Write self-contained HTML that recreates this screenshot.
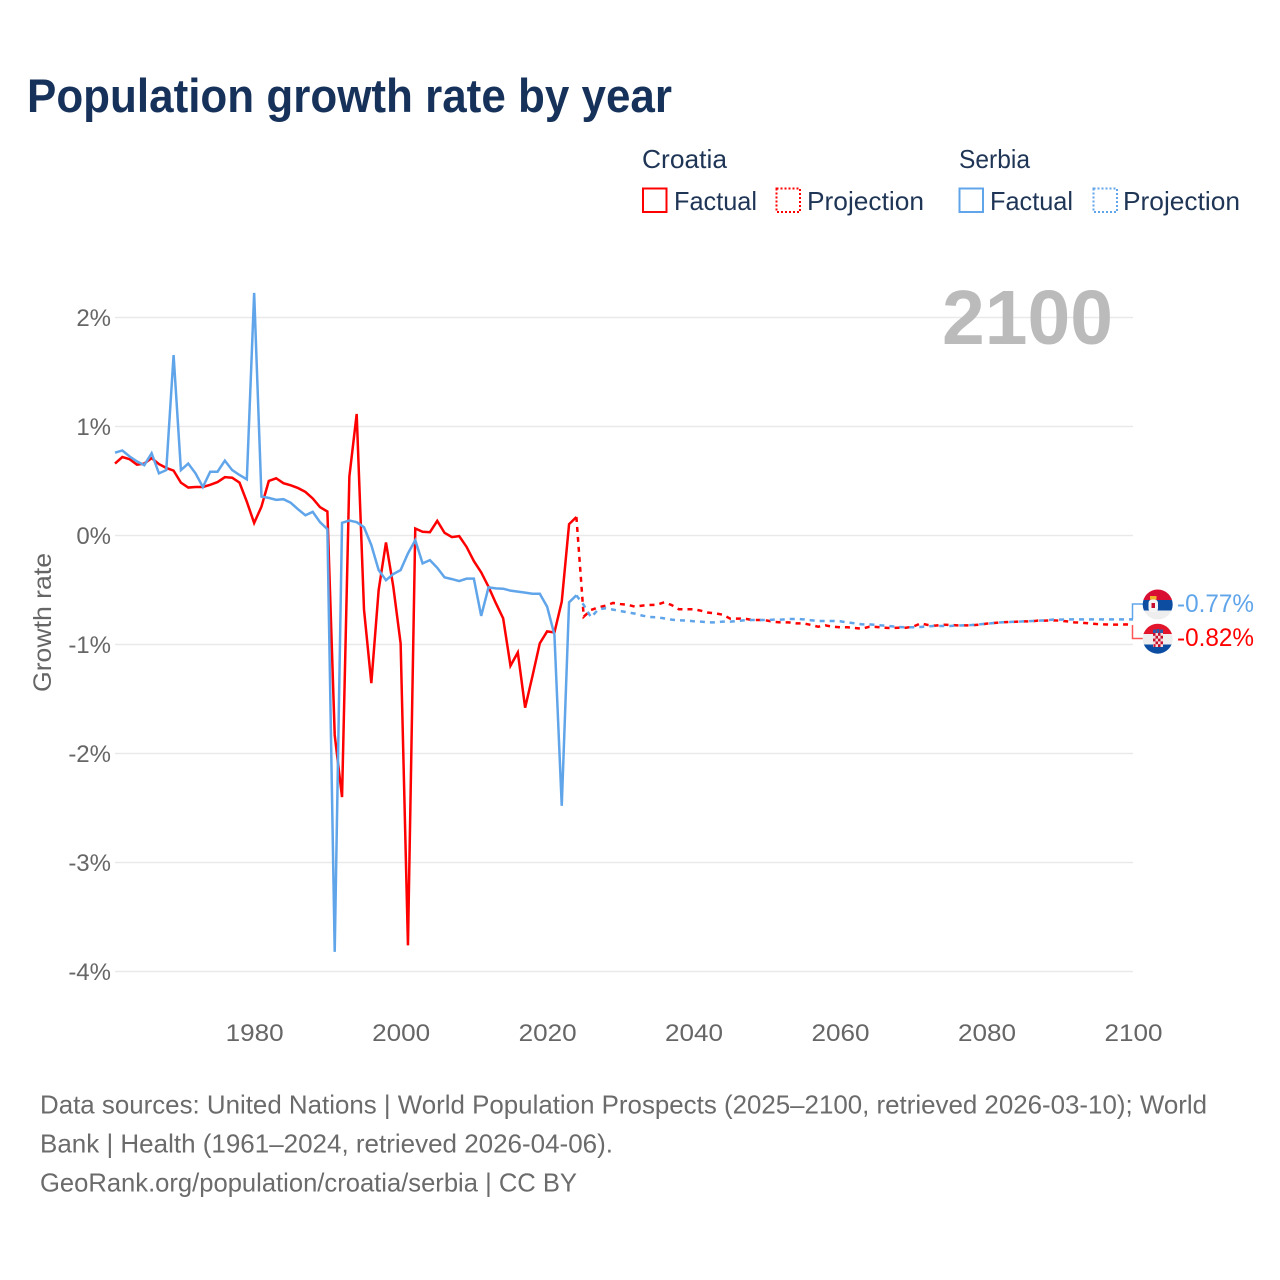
<!DOCTYPE html>
<html lang="en">
<head>
<meta charset="utf-8">
<title>Population growth rate by year</title>
<style>
html,body{margin:0;padding:0;background:#fff;}
svg{display:block;font-family:"Liberation Sans",sans-serif;}
</style>
</head>
<body>
<svg id="chart" xmlns="http://www.w3.org/2000/svg" width="1280" height="1280" viewBox="0 0 1280 1280">
  <rect x="0" y="0" width="1280" height="1280" fill="#ffffff"/>
  <text x="27" y="112" font-size="47" font-weight="700" fill="#17325a" textLength="645" lengthAdjust="spacingAndGlyphs">Population growth rate by year</text>

  <g font-size="26" fill="#1f3556">
    <text x="642" y="168" textLength="85" lengthAdjust="spacingAndGlyphs">Croatia</text>
    <text x="959" y="168" textLength="71" lengthAdjust="spacingAndGlyphs">Serbia</text>
    <rect x="643" y="188.500" width="23.500" height="23.500" fill="none" stroke="#ff0000" stroke-width="2"/>
    <text x="674" y="210" textLength="83" lengthAdjust="spacingAndGlyphs">Factual</text>
    <rect x="776.500" y="188.500" width="23.500" height="23.500" fill="none" stroke="#ff0000" stroke-width="2" stroke-dasharray="2 2"/>
    <text x="807" y="210" textLength="117" lengthAdjust="spacingAndGlyphs">Projection</text>
    <rect x="959.500" y="188.500" width="23.500" height="23.500" fill="none" stroke="#60a5ea" stroke-width="2"/>
    <text x="990" y="210" textLength="83" lengthAdjust="spacingAndGlyphs">Factual</text>
    <rect x="1093.500" y="188.500" width="23.500" height="23.500" fill="none" stroke="#60a5ea" stroke-width="2" stroke-dasharray="2 2"/>
    <text x="1123" y="210" textLength="117" lengthAdjust="spacingAndGlyphs">Projection</text>
  </g>

  <text transform="translate(51 692) rotate(-90)" font-size="25" fill="#666666" textLength="139" lengthAdjust="spacingAndGlyphs">Growth rate</text>

  <g id="grid"></g>
  <g id="yticks"></g>
  <g id="xticks"></g>

  <text x="942" y="344" font-size="77" font-weight="700" fill="#bbbbbb" textLength="171" lengthAdjust="spacingAndGlyphs">2100</text>

  <g id="series"></g>

  <g fill="none" stroke-width="1.500">
    <path d="M1132.500 619V604H1143" stroke="#60a5ea"/>
    <path d="M1132.500 625V638.500H1143" stroke="#ff5555"/>
  </g>

  <defs>
    <clipPath id="clip-rs"><circle cx="1157.700" cy="604.500" r="15"/></clipPath>
    <clipPath id="clip-hr"><circle cx="1157.700" cy="638.700" r="15"/></clipPath>
  </defs>

  <g clip-path="url(#clip-rs)">
    <rect x="1142" y="589" width="32" height="11" fill="#d80f33"/>
    <rect x="1142" y="600" width="32" height="10.500" fill="#0c4da2"/>
    <rect x="1142" y="610.500" width="32" height="10" fill="#eeeeee"/>
    <rect x="1150" y="596" width="6.500" height="3.500" fill="#f0b429"/>
    <rect x="1148.500" y="599.500" width="9.500" height="12.500" rx="3.500" fill="#f5f5f5"/>
    <rect x="1151.500" y="603" width="3.500" height="5" fill="#c8102e"/>
  </g>

  <g clip-path="url(#clip-hr)">
    <rect x="1142" y="623" width="32" height="11" fill="#e2152d"/>
    <rect x="1142" y="634" width="32" height="10.500" fill="#eeeeee"/>
    <rect x="1142" y="644.500" width="32" height="10" fill="#0c4da2"/>
    <rect x="1153" y="629.500" width="3" height="3.500" fill="#2a5aa8"/>
    <rect x="1156.500" y="629" width="3" height="4" fill="#2a5aa8"/>
    <rect x="1160" y="629.500" width="3" height="3.500" fill="#2a5aa8"/>
    <rect x="1153" y="633" width="10" height="14" fill="#f4dcdc"/>
    <rect x="1153" y="633" width="2.500" height="2.800" fill="#c8102e"/>
    <rect x="1158" y="633" width="2.500" height="2.800" fill="#c8102e"/>
    <rect x="1155.500" y="635.800" width="2.500" height="2.800" fill="#c8102e"/>
    <rect x="1160.500" y="635.800" width="2.500" height="2.800" fill="#c8102e"/>
    <rect x="1153" y="638.600" width="2.500" height="2.800" fill="#c8102e"/>
    <rect x="1158" y="638.600" width="2.500" height="2.800" fill="#c8102e"/>
    <rect x="1155.500" y="641.400" width="2.500" height="2.800" fill="#c8102e"/>
    <rect x="1160.500" y="641.400" width="2.500" height="2.800" fill="#c8102e"/>
    <rect x="1153.500" y="644.200" width="2" height="2.800" fill="#c8102e"/>
    <rect x="1158" y="644.200" width="2.500" height="2.800" fill="#c8102e"/>
  </g>

  <text x="1177" y="612" font-size="25" fill="#60a5ea" textLength="77" lengthAdjust="spacingAndGlyphs">-0.77%</text>
  <text x="1177" y="646" font-size="25" fill="#ff0000" textLength="77" lengthAdjust="spacingAndGlyphs">-0.82%</text>

  <g font-size="26" fill="#6b6b6b">
    <text x="40" y="1113.500" textLength="1167" lengthAdjust="spacingAndGlyphs">Data sources: United Nations | World Population Prospects (2025–2100, retrieved 2026-03-10); World</text>
    <text x="40" y="1152.500" textLength="573" lengthAdjust="spacingAndGlyphs">Bank | Health (1961–2024, retrieved 2026-04-06).</text>
    <text x="40" y="1191.500" textLength="537" lengthAdjust="spacingAndGlyphs">GeoRank.org/population/croatia/serbia | CC BY</text>
  </g>
</svg>

<script>
const factualStartYear = 1961;
const projectionStartYear = 2024;
const yTickValues = [2, 1, 0, -1, -2, -3, -4];
const yTickLabels = ["2%", "1%", "0%", "-1%", "-2%", "-3%", "-4%"];
const xTickYears = [1980, 2000, 2020, 2040, 2060, 2080, 2100];
const xTickLabels = ["1980", "2000", "2020", "2040", "2060", "2080", "2100"];

const croatiaFactual = [
  0.66,0.72,0.70,0.65,0.66,0.71,0.655,0.62,0.595,0.485,
  0.44,0.445,0.445,0.465,0.49,0.535,0.53,0.485,0.31,0.115,
  0.265,0.50,0.525,0.48,0.46,0.435,0.40,0.34,0.26,0.22,
  -1.83,-2.40,0.54,1.115,-0.68,-1.354,-0.50,-0.064,-0.47,-0.99,
  -3.76,0.064,0.034,0.03,0.134,0.024,-0.015,-0.006,-0.104,-0.235,
  -0.338,-0.47,-0.62,-0.76,-1.195,-1.073,-1.58,-1.29,-0.99,-0.88,
  -0.89,-0.607,0.104,0.17
];
const serbiaFactual = [
  0.76,0.78,0.725,0.68,0.645,0.755,0.57,0.60,1.655,0.60,
  0.66,0.57,0.445,0.585,0.585,0.687,0.60,0.555,0.515,2.225,
  0.357,0.345,0.327,0.333,0.30,0.24,0.186,0.217,0.122,0.058,
  -3.82,0.116,0.137,0.122,0.076,-0.088,-0.317,-0.41,-0.354,-0.317,
  -0.165,-0.043,-0.256,-0.226,-0.296,-0.384,-0.40,-0.418,-0.396,-0.396,
  -0.738,-0.476,-0.485,-0.488,-0.506,-0.515,-0.524,-0.534,-0.534,-0.652,
  -0.91,-2.48,-0.613,-0.549
];
const croatiaProjection = [
  0.17,-0.745,-0.683,-0.66,-0.643,-0.619,-0.629,-0.635,-0.653,-0.643,
  -0.638,-0.635,-0.613,-0.638,-0.677,-0.677,-0.677,-0.69,-0.708,-0.714,
  -0.727,-0.763,-0.763,-0.763,-0.775,-0.775,-0.78,-0.793,-0.797,-0.797,
  -0.806,-0.806,-0.82,-0.837,-0.825,-0.837,-0.842,-0.842,-0.849,-0.855,
  -0.837,-0.839,-0.846,-0.849,-0.846,-0.846,-0.836,-0.806,-0.821,-0.827,
  -0.818,-0.821,-0.824,-0.824,-0.824,-0.818,-0.809,-0.803,-0.797,-0.794,
  -0.791,-0.788,-0.788,-0.781,-0.781,-0.778,-0.781,-0.788,-0.797,-0.80,
  -0.806,-0.812,-0.815,-0.818,-0.818,-0.815,-0.82
];
const serbiaProjection = [
  -0.549,-0.637,-0.75,-0.677,-0.668,-0.68,-0.693,-0.705,-0.717,-0.735,
  -0.748,-0.75,-0.76,-0.772,-0.778,-0.78,-0.787,-0.79,-0.797,-0.797,
  -0.79,-0.79,-0.784,-0.778,-0.775,-0.775,-0.775,-0.772,-0.772,-0.766,
  -0.766,-0.769,-0.778,-0.784,-0.784,-0.784,-0.787,-0.797,-0.806,-0.815,
  -0.815,-0.821,-0.827,-0.833,-0.839,-0.842,-0.842,-0.839,-0.833,-0.83,
  -0.83,-0.83,-0.827,-0.824,-0.821,-0.815,-0.809,-0.803,-0.797,-0.794,
  -0.791,-0.788,-0.785,-0.781,-0.778,-0.772,-0.772,-0.769,-0.77,-0.77,
  -0.77,-0.77,-0.77,-0.77,-0.77,-0.77,-0.77
];

const NS = "http://www.w3.org/2000/svg";
const plotLeft = 115, plotRight = 1133;
function xScale(year) { return plotLeft + (year - 1961) * (plotRight - plotLeft) / 139; }
function yScale(value) { return 535.5 - value * 109; }

const gridGroup = document.getElementById("grid");
const yTickGroup = document.getElementById("yticks");
yTickValues.forEach(function (v, i) {
  const line = document.createElementNS(NS, "line");
  
  
  line.setAttribute("x1", plotLeft);
  line.setAttribute("x2", plotRight);
  line.setAttribute("y1", yScale(v));
  line.setAttribute("y2", yScale(v));
  line.setAttribute("stroke", "#e9e9e9");
  line.setAttribute("stroke-width", "1.500");
  gridGroup.appendChild(line);

  const label = document.createElementNS(NS, "text");
  
  
  label.setAttribute("x", 111);
  label.setAttribute("y", yScale(v) + 8.500);
  label.setAttribute("text-anchor", "end");
  label.setAttribute("font-size", "24");
  label.setAttribute("fill", "#666666");
  label.textContent = yTickLabels[i];
  yTickGroup.appendChild(label);
});

const xTickGroup = document.getElementById("xticks");
xTickYears.forEach(function (yr, i) {
  const label = document.createElementNS(NS, "text");
  
  
  label.setAttribute("x", xScale(yr) + 0.500);
  label.setAttribute("y", 1041);
  label.setAttribute("text-anchor", "middle");
  label.setAttribute("font-size", "24");
  label.setAttribute("fill", "#666666");
  label.setAttribute("textLength", "58");
  label.setAttribute("lengthAdjust", "spacingAndGlyphs");
  label.textContent = xTickLabels[i];
  xTickGroup.appendChild(label);
});

function buildPoints(values, startYear) {
  return values.map(function (v, i) {
    return xScale(startYear + i).toFixed(2) + "," + yScale(v).toFixed(2);
  }).join(" ");
}

const seriesGroup = document.getElementById("series");

const croatiaFactualLine = document.createElementNS(NS, "polyline");


croatiaFactualLine.setAttribute("points", buildPoints(croatiaFactual, factualStartYear));
croatiaFactualLine.setAttribute("fill", "none");
croatiaFactualLine.setAttribute("stroke", "#ff0000");
croatiaFactualLine.setAttribute("stroke-width", "2.500");
seriesGroup.appendChild(croatiaFactualLine);

const croatiaProjectionLine = document.createElementNS(NS, "polyline");


croatiaProjectionLine.setAttribute("points", buildPoints(croatiaProjection, projectionStartYear));
croatiaProjectionLine.setAttribute("fill", "none");
croatiaProjectionLine.setAttribute("stroke", "#ff0000");
croatiaProjectionLine.setAttribute("stroke-width", "2.500");
croatiaProjectionLine.setAttribute("stroke-dasharray", "5 5");
seriesGroup.appendChild(croatiaProjectionLine);

const serbiaFactualLine = document.createElementNS(NS, "polyline");


serbiaFactualLine.setAttribute("points", buildPoints(serbiaFactual, factualStartYear));
serbiaFactualLine.setAttribute("fill", "none");
serbiaFactualLine.setAttribute("stroke", "#60a5ea");
serbiaFactualLine.setAttribute("stroke-width", "2.500");
seriesGroup.appendChild(serbiaFactualLine);

const serbiaProjectionLine = document.createElementNS(NS, "polyline");


serbiaProjectionLine.setAttribute("points", buildPoints(serbiaProjection, projectionStartYear));
serbiaProjectionLine.setAttribute("fill", "none");
serbiaProjectionLine.setAttribute("stroke", "#60a5ea");
serbiaProjectionLine.setAttribute("stroke-width", "2.500");
serbiaProjectionLine.setAttribute("stroke-dasharray", "5 5");
seriesGroup.appendChild(serbiaProjectionLine);
</script>
</body>
</html>
